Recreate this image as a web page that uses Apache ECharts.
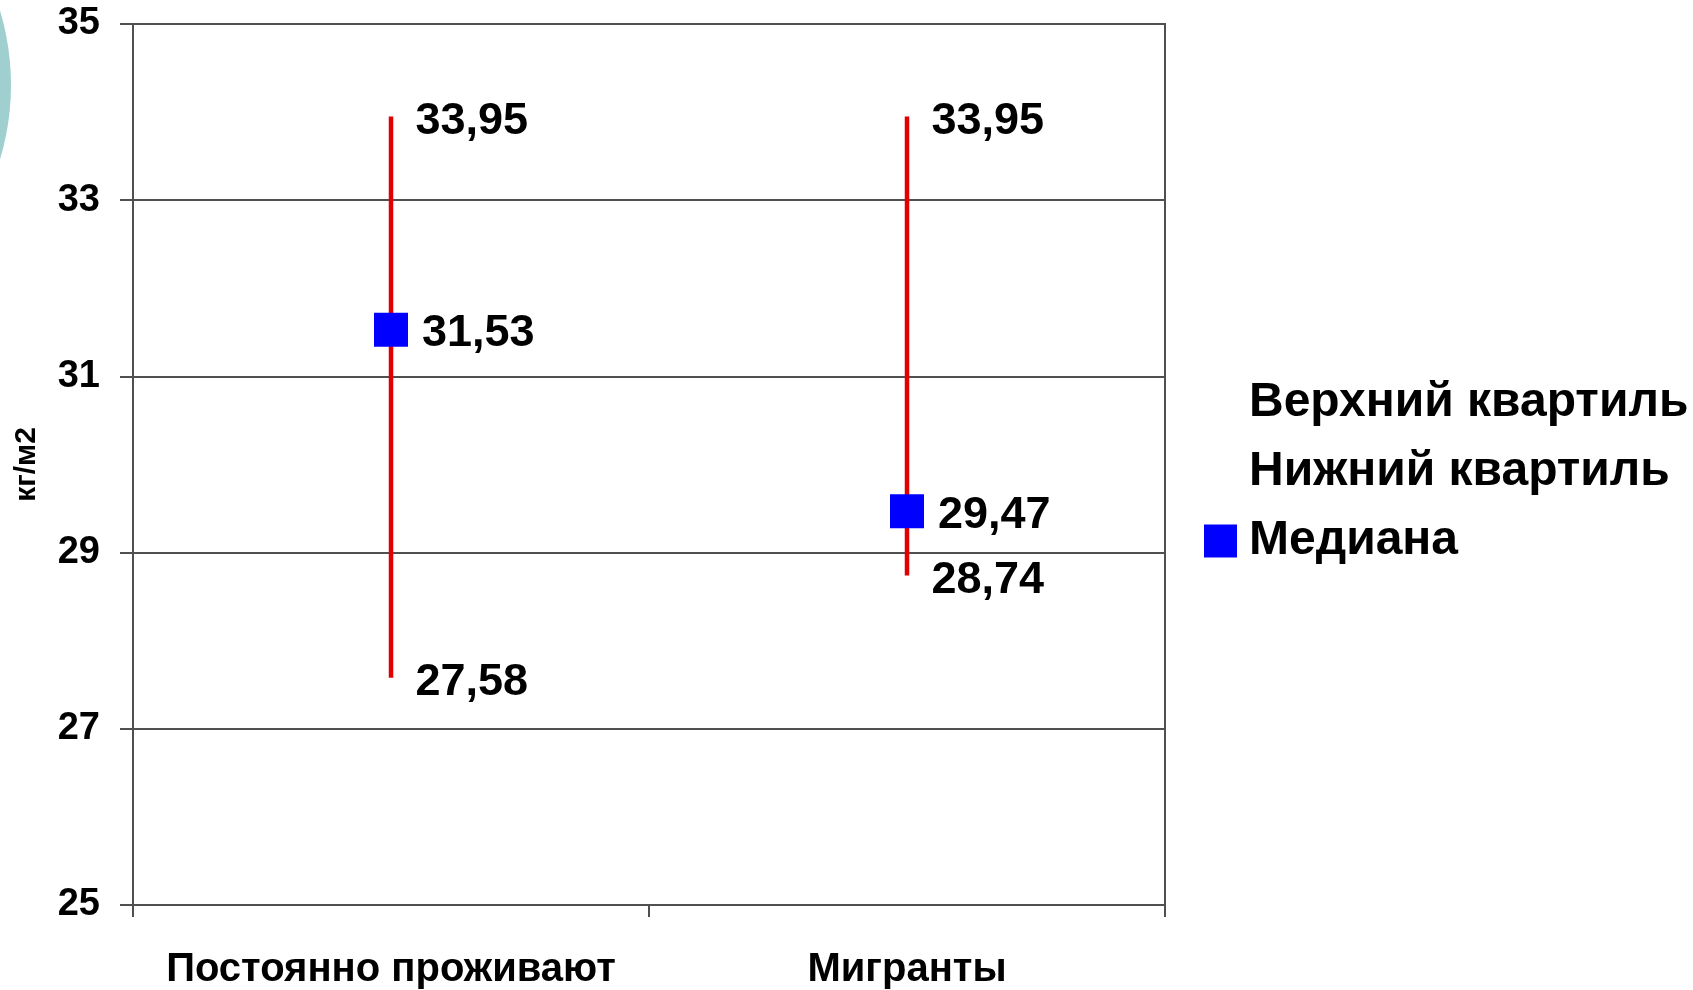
<!DOCTYPE html>
<html>
<head>
<meta charset="utf-8">
<script src="https://cdn.jsdelivr.net/npm/echarts@6/dist/echarts.min.js"></script>
<style>
html,body{margin:0;padding:0;background:#fff;}
#chart{width:1693px;height:990px;}
</style>
</head>
<body>
<div id="chart"></div>
<script>
var categories = ['Постоянно проживают', 'Мигранты'];
var upperQuartile = [33.95, 33.95];
var lowerQuartile = [27.58, 28.74];
var median = [31.53, 29.47];
var yTicks = {min: 25, max: 35, interval: 2};
var yName = 'кг/м2';
var seriesNames = ['Верхний квартиль', 'Нижний квартиль', 'Медиана'];

var FONT = '"Liberation Sans", Arial, sans-serif';
function fmt(v) { return v.toFixed(2).replace('.', ','); }

var rangeData = categories.map(function (c, i) { return [i, lowerQuartile[i], upperQuartile[i]]; });

var labelStyle = {fontFamily: FONT, fontWeight: 'bold', fontSize: 45, color: '#000', opacity: 1};

var chart = echarts.init(document.getElementById('chart'));
chart.setOption({
  animation: false,
  backgroundColor: '#ffffff',
  graphic: [{
    type: 'circle',
    shape: {cx: -247, cy: 85, r: 258},
    style: {fill: '#9fcfcf'},
    silent: true
  }],
  grid: {left: 133, right: 528, top: 24, bottom: 83, show: true, borderColor: '#505050', borderWidth: 2, backgroundColor: 'transparent'},
  legend: {
    orient: 'vertical',
    left: 1199,
    top: 373,
    itemWidth: 33,
    itemHeight: 33,
    itemGap: 19,
    selectedMode: false,
    textStyle: {fontFamily: FONT, fontWeight: 'bold', fontSize: 48, color: '#000', lineHeight: 50, padding: [0, 0, 0, 7]},
    data: [
      {name: seriesNames[0], icon: 'rect', itemStyle: {opacity: 0}},
      {name: seriesNames[1], icon: 'rect', itemStyle: {opacity: 0}},
      {name: seriesNames[2], icon: 'rect', itemStyle: {color: '#0000ff', opacity: 1}}
    ]
  },
  xAxis: {
    type: 'category',
    data: categories,
    boundaryGap: true,
    axisLine: {show: true, lineStyle: {color: '#505050', width: 2}},
    axisTick: {show: true, length: 12, interval: 0, lineStyle: {color: '#505050', width: 2}},
    axisLabel: {fontFamily: FONT, fontWeight: 'bold', fontSize: 40, color: '#000', margin: 45, interval: 0},
    splitLine: {show: false}
  },
  yAxis: {
    type: 'value',
    min: yTicks.min,
    max: yTicks.max,
    interval: yTicks.interval,
    name: yName,
    nameLocation: 'middle',
    nameRotate: 90,
    nameGap: 91,
    nameTextStyle: {fontFamily: FONT, fontWeight: 'bold', fontSize: 30, color: '#000'},
    axisLine: {show: true, lineStyle: {color: '#505050', width: 2}},
    axisTick: {show: true, length: 13, lineStyle: {color: '#505050', width: 2}},
    axisLabel: {fontFamily: FONT, fontWeight: 'bold', fontSize: 38, color: '#000', margin: 33},
    splitLine: {show: true, lineStyle: {color: '#505050', width: 2}}
  },
  series: [
    {
      type: 'custom',
      name: 'range',
      data: rangeData,
      encode: {x: 0, y: [1, 2]},
      renderItem: function (params, api) {
        var p1 = api.coord([api.value(0), api.value(1)]);
        var p2 = api.coord([api.value(0), api.value(2)]);
        return {
          type: 'line',
          shape: {x1: p1[0], y1: p1[1], x2: p2[0], y2: p2[1]},
          style: {stroke: '#e00000', lineWidth: 4.5}
        };
      },
      z: 2
    },
    {
      type: 'scatter',
      name: seriesNames[0],
      data: upperQuartile,
      symbol: 'rect',
      symbolSize: 1,
      itemStyle: {color: 'rgba(0,0,0,0)', opacity: 1},
      label: Object.assign({show: true, position: 'right', distance: 24, offset: [0, 5], formatter: function (p) { return fmt(p.value); }}, labelStyle),
      z: 3
    },
    {
      type: 'scatter',
      name: seriesNames[1],
      data: lowerQuartile,
      symbol: 'rect',
      symbolSize: 1,
      itemStyle: {color: 'rgba(0,0,0,0)', opacity: 1},
      label: Object.assign({show: true, position: 'right', distance: 24, offset: [0, 5], formatter: function (p) { return fmt(p.value); }}, labelStyle),
      z: 3
    },
    {
      type: 'scatter',
      name: seriesNames[2],
      data: median,
      symbol: 'rect',
      symbolSize: 34,
      itemStyle: {color: '#0000ff', opacity: 1},
      label: Object.assign({show: true, position: 'right', distance: 14, offset: [0, 4], formatter: function (p) { return fmt(p.value); }}, labelStyle),
      z: 4
    }
  ]
});
</script>
</body>
</html>
